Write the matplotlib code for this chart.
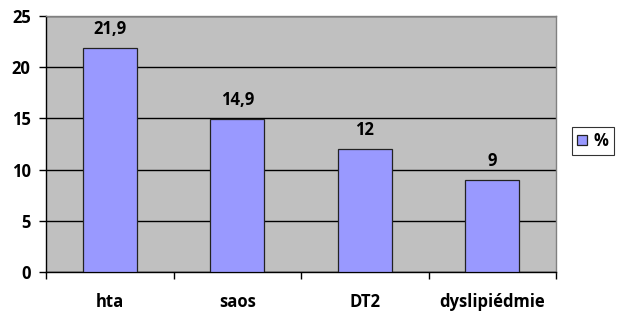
import matplotlib.pyplot as plt
import numpy as np

categories = ['hta', 'saos', 'DT2', 'dyslipiédmie']
values = [21.9, 14.9, 12, 9]
value_labels = ['21,9', '14,9', '12', '9']

plt.rcParams['font.family'] = ['Open Sans', 'DejaVu Sans']
plt.rcParams['font.weight'] = 'bold'

fig = plt.figure(figsize=(6.17, 3.15), dpi=100)
ax = fig.add_axes([46 / 617, 1 - 272 / 315, 510 / 617, 256 / 315])

x = np.arange(len(categories))
bars = ax.bar(x, values, width=0.42, color='#9999ff', edgecolor='#222222',
              linewidth=0.9, label='%', zorder=3)

for xi, v, lab in zip(x, values, value_labels):
    ax.text(xi, v + 1.0, lab, ha='center', va='bottom', fontsize=12, fontweight='bold')

ax.set_facecolor('#c0c0c0')
ax.set_xlim(-0.5, len(categories) - 0.5)
ax.set_ylim(0, 25)
ax.set_yticks(range(0, 26, 5))
ax.yaxis.grid(True, color='black', linewidth=1, zorder=1)
ax.set_axisbelow(True)

ax.set_xticks(np.arange(-0.5, len(categories), 1))
ax.set_xticklabels([])
ax.set_xticks(x, minor=True)
ax.set_xticklabels(categories, minor=True, fontsize=12, fontweight='bold')
ax.tick_params(axis='x', which='minor', length=0, pad=15)
ax.tick_params(axis='x', which='major', length=5, direction='out', width=1)
ax.tick_params(axis='y', length=5, direction='out', width=1, labelsize=12, pad=6)
for t in ax.get_yticklabels():
    t.set_fontweight('bold')

for side in ['top', 'right']:
    ax.spines[side].set_color('#808080')
    ax.spines[side].set_linewidth(1)
for side in ['left', 'bottom']:
    ax.spines[side].set_color('black')
    ax.spines[side].set_linewidth(1)

leg = fig.legend(handles=[bars], labels=['%'], loc='upper left',
                 bbox_to_anchor=(572 / 617, 1 - 127 / 315), frameon=True,
                 fancybox=False, edgecolor='black', fontsize=12,
                 handlelength=0.6, handleheight=0.6, handletextpad=0.4,
                 borderpad=0.3, borderaxespad=0)
leg.get_frame().set_linewidth(0.8)

fig.savefig('out.png', dpi=100)
